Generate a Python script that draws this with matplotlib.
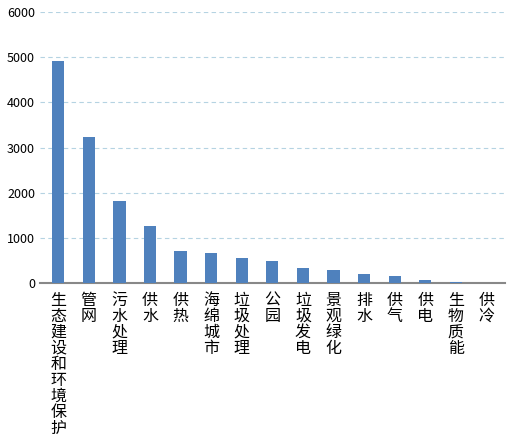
import matplotlib
matplotlib.use("Agg")
import matplotlib.pyplot as plt

categories = ["生态建设和环境保护","管网","污水处理","供水","供热","海绵城市","垃圾处理","公园","垃圾发电","景观绿化","排水","供气","供电","生物质能","供冷"]
values = [4920,3230,1830,1270,710,680,570,490,340,290,220,160,80,30,5]
yticks = [0,1000,2000,3000,4000,5000,6000]

plt.rcParams['font.family'] = ['Noto Sans CJK SC','DejaVu Sans']
fig = plt.figure(figsize=(5.11,4.45), dpi=100)
ax = fig.add_axes([0.078, 0.363, 0.91, 0.61])
x = range(len(categories))
ax.bar(x, values, width=0.4, color='#4f81bd', zorder=3)
ax.set_xlim(-0.6, len(categories)-0.4)
ax.set_ylim(0, 6000)
ax.set_yticks(yticks)
ax.set_yticklabels([str(v) for v in yticks], fontsize=9)
ax.yaxis.grid(True, linestyle=(0,(4,3)), color='#b5d3e2', linewidth=0.8, zorder=0)
for s in ['top','right','left']:
    ax.spines[s].set_visible(False)
ax.spines['bottom'].set_color('#888888')
ax.spines['bottom'].set_linewidth(1.5)
ax.tick_params(axis='y', length=0)
ax.tick_params(axis='x', length=0, pad=6)
ax.set_xticks(list(x))
ax.set_xticklabels(["\n".join(c) for c in categories], fontsize=11.5, va='top', linespacing=0.92)
fig.savefig("out.png", dpi=100)
